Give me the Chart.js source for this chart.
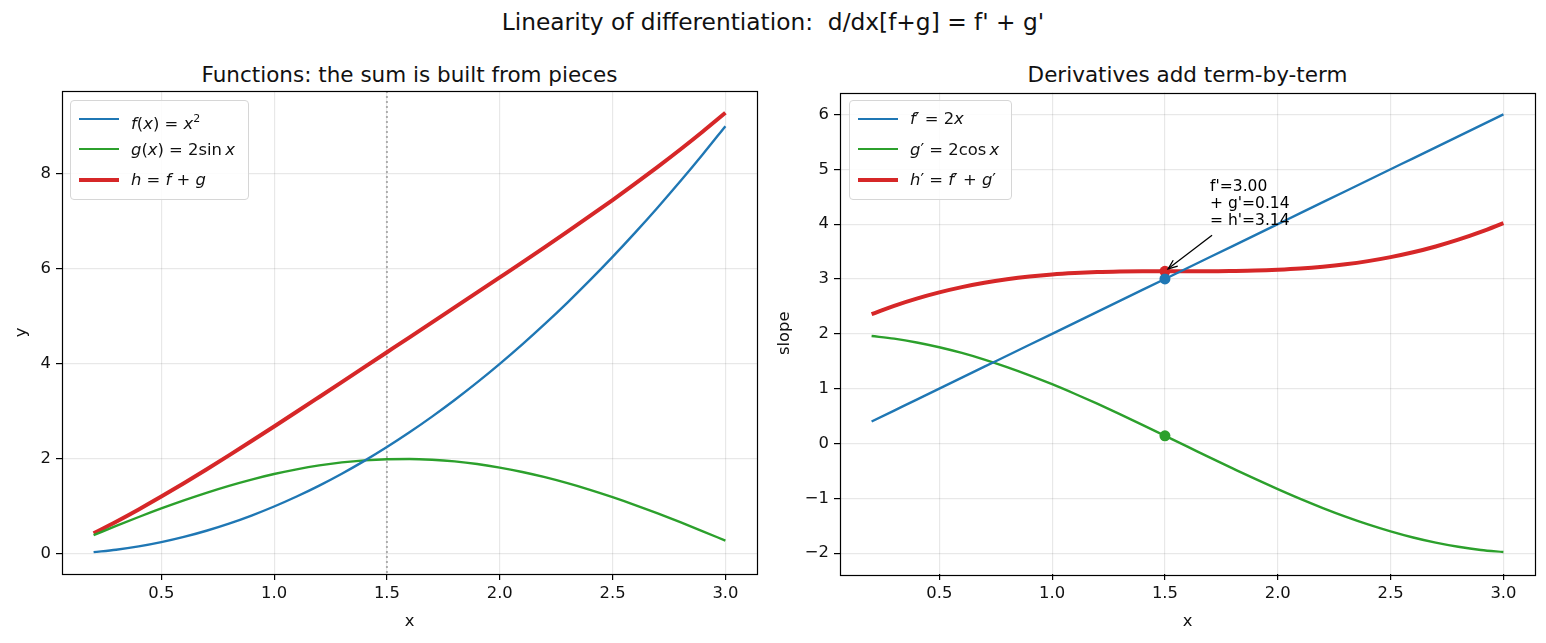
<!DOCTYPE html>
<html>
<head>
<meta charset="utf-8">
<script src="https://cdn.jsdelivr.net/npm/chart.js@4.4.1/dist/chart.umd.min.js"></script>
<style>
  body { margin: 0; width: 1546px; height: 643px; background: #fff; font-family: "DejaVu Sans", sans-serif; position: relative; overflow: hidden; }
  .title { position: absolute; left: 0; width: 1546px; top: 8px; text-align: center; font-size: 23.3px; line-height: 28px; color: #111; }
  .subtitle { position: absolute; top: 62px; text-align: center; font-size: 21.5px; line-height: 26px; color: #111; }
  .wrap { position: absolute; top: 87px; }
  .legend { position: absolute; background: rgba(255,255,255,0.85); border: 1px solid #d6d6d6; border-radius: 4px; font-size: 16.4px; color: #111; }
  .legend .row { position: absolute; left: 0; height: 20px; white-space: nowrap; }
  .legend .swatch { position: absolute; left: 8px; width: 40px; }
  .legend .lbl { position: absolute; left: 60px; top: -11px; line-height: 22px; }
  .legend i { font-style: italic; }
</style>
</head>
<body>
<div class="title">Linearity of differentiation:&nbsp; d/dx[f+g] = f' + g'</div>
<div class="subtitle" style="left:62px;width:695px">Functions: the sum is built from pieces</div>
<div class="subtitle" style="left:840px;width:695px">Derivatives add term-by-term</div>

<div class="wrap" style="left:0px"><canvas id="leftChart" width="770" height="556"></canvas></div>
<div class="wrap" style="left:770px"><canvas id="rightChart" width="776" height="556"></canvas></div>

<div class="legend" id="legLeft" style="left:70px;top:100px;width:177px;height:98px"></div>
<div class="legend" id="legRight" style="left:849px;top:100px;width:161px;height:98px"></div>

<script>
// x sample points
const xs = [0.2, 0.3, 0.4, 0.5, 0.6, 0.7, 0.8, 0.9, 1.0, 1.1, 1.2, 1.3, 1.4, 1.5, 1.6,
            1.7, 1.8, 1.9, 2.0, 2.1, 2.2, 2.3, 2.4, 2.5, 2.6, 2.7, 2.8, 2.9, 3.0];

// left panel: functions
const fVals = [0.04, 0.09, 0.16, 0.25, 0.36, 0.49, 0.64, 0.81, 1.00, 1.21, 1.44, 1.69, 1.96, 2.25, 2.56,
               2.89, 3.24, 3.61, 4.00, 4.41, 4.84, 5.29, 5.76, 6.25, 6.76, 7.29, 7.84, 8.41, 9.00];
const gVals = [0.397, 0.591, 0.779, 0.959, 1.129, 1.288, 1.435, 1.567, 1.683, 1.782, 1.864, 1.927, 1.971, 1.995, 1.999,
               1.983, 1.948, 1.893, 1.819, 1.726, 1.617, 1.491, 1.351, 1.197, 1.031, 0.855, 0.670, 0.479, 0.282];
const hVals = [0.437, 0.681, 0.939, 1.209, 1.489, 1.778, 2.075, 2.377, 2.683, 2.992, 3.304, 3.617, 3.931, 4.245, 4.559,
               4.873, 5.188, 5.503, 5.819, 6.136, 6.457, 6.781, 7.111, 7.447, 7.791, 8.145, 8.510, 8.889, 9.282];

// right panel: derivatives
const fpVals = [0.4, 0.6, 0.8, 1.0, 1.2, 1.4, 1.6, 1.8, 2.0, 2.2, 2.4, 2.6, 2.8, 3.0, 3.2,
                3.4, 3.6, 3.8, 4.0, 4.2, 4.4, 4.6, 4.8, 5.0, 5.2, 5.4, 5.6, 5.8, 6.0];
const gpVals = [1.960, 1.911, 1.842, 1.755, 1.651, 1.530, 1.393, 1.243, 1.081, 0.907, 0.725, 0.535, 0.340, 0.141, -0.058,
                -0.258, -0.454, -0.647, -0.832, -1.010, -1.177, -1.333, -1.475, -1.602, -1.714, -1.808, -1.884, -1.942, -1.980];
const hpVals = [2.360, 2.511, 2.642, 2.755, 2.851, 2.930, 2.993, 3.043, 3.081, 3.107, 3.125, 3.135, 3.140, 3.141, 3.142,
                3.142, 3.146, 3.153, 3.168, 3.190, 3.223, 3.267, 3.325, 3.398, 3.486, 3.592, 3.716, 3.858, 4.020];

// marked point x0 and its values
const x0 = 1.5;
const markVals = { fp: 3.00, gp: 0.14, hp: 3.14 };
const annotLines = ["f'=3.00", "+ g'=0.14", "= h'=3.14"];
const annotAt = [1.7, 3.98];

// ticks
const xTicks = [0.5, 1.0, 1.5, 2.0, 2.5, 3.0];
const yTicksLeft = [0, 2, 4, 6, 8];
const yTicksRight = [-2, -1, 0, 1, 2, 3, 4, 5, 6];

const BLUE = '#1f77b4', GREEN = '#2ca02c', RED = '#d62728';
const FONT = '"DejaVu Sans", sans-serif';

function pts(ys) { return xs.map((x, i) => ({ x: x, y: ys[i] })); }

function lineDs(label, ys, color, w) {
    return { label: label, data: pts(ys), borderColor: color, backgroundColor: color, borderWidth: w,
             showLine: true, pointRadius: 0, cubicInterpolationMode: 'monotone', fill: false };
}

// frame around the plot area
const framePlugin = {
    id: 'frame',
    afterDraw(chart) {
        const a = chart.chartArea, ctx = chart.ctx;
        ctx.save();
        ctx.strokeStyle = '#000';
        ctx.lineWidth = 1.2;
        ctx.strokeRect(Math.round(a.left) + 0.5, Math.round(a.top) + 0.5, Math.round(a.right - a.left), Math.round(a.bottom - a.top));
        ctx.restore();
    }
};

// dotted vertical marker at x0 (left panel)
const vlinePlugin = {
    id: 'vline',
    beforeDatasetsDraw(chart) {
        const xp = chart.scales.x.getPixelForValue(x0), a = chart.chartArea, ctx = chart.ctx;
        ctx.save();
        ctx.strokeStyle = 'rgba(128,128,128,0.6)';
        ctx.lineWidth = 2;
        ctx.setLineDash([2, 3]);
        ctx.beginPath();
        ctx.moveTo(xp, a.top);
        ctx.lineTo(xp, a.bottom);
        ctx.stroke();
        ctx.restore();
    }
};

// text + arrow annotation (right panel)
const annotPlugin = {
    id: 'annot',
    afterDatasetsDraw(chart) {
        const sx = chart.scales.x, sy = chart.scales.y, ctx = chart.ctx;
        const tx = sx.getPixelForValue(annotAt[0]), ty = sy.getPixelForValue(annotAt[1]);
        const px = sx.getPixelForValue(x0), py = sy.getPixelForValue(markVals.hp);
        ctx.save();
        ctx.fillStyle = '#000';
        ctx.font = '15.5px ' + FONT;
        ctx.textBaseline = 'alphabetic';
        annotLines.forEach((t, i) => ctx.fillText(t, tx, ty - (annotLines.length - 1 - i) * 17));
        // arrow
        const x1 = tx + 2, y1 = ty + 10;
        const dx = px - x1, dy = py - y1, len = Math.hypot(dx, dy);
        const ux = dx / len, uy = dy / len;
        const x2 = px - ux * 4, y2 = py - uy * 4;
        ctx.strokeStyle = '#000';
        ctx.lineWidth = 1.3;
        ctx.beginPath();
        ctx.moveTo(x1, y1);
        ctx.lineTo(x2, y2);
        ctx.stroke();
        const ang = Math.atan2(uy, ux), hl = 10;
        ctx.beginPath();
        ctx.moveTo(x2 - hl * Math.cos(ang - 0.38), y2 - hl * Math.sin(ang - 0.38));
        ctx.lineTo(x2, y2);
        ctx.lineTo(x2 - hl * Math.cos(ang + 0.38), y2 - hl * Math.sin(ang + 0.38));
        ctx.stroke();
        ctx.restore();
    }
};

function makeScales(yTicks, yMin, yMax, yTitle, yWidth, yTitlePad, yFmt) {
    const tickFont = { family: FONT, size: 16.4 };
    const grid = { color: 'rgba(0,0,0,0.09)', lineWidth: 1.2, tickColor: '#000', tickLength: 6, tickWidth: 1.2, drawTicks: true };
    return {
        x: {
            type: 'linear', min: 0.06, max: 3.14,
            afterBuildTicks: s => { s.ticks = xTicks.map(v => ({ value: v })); },
            afterFit: s => { s.height = 69; s.paddingLeft = 0; s.paddingRight = 0; },
            ticks: { font: tickFont, color: '#111', padding: 4, maxRotation: 0, callback: v => v.toFixed(1) },
            grid: grid, border: { display: false },
            title: { display: true, text: 'x', font: { family: FONT, size: 16.4 }, color: '#111', padding: { top: 0, bottom: 11 } }
        },
        y: {
            type: 'linear', min: yMin, max: yMax,
            afterBuildTicks: s => { s.ticks = yTicks.map(v => ({ value: v })); },
            afterFit: s => { s.width = yWidth; s.paddingTop = 0; s.paddingBottom = 0; },
            ticks: { font: tickFont, color: '#111', padding: 5, callback: yFmt },
            grid: grid, border: { display: false },
            title: { display: true, text: yTitle, font: { family: FONT, size: 16.4 }, color: '#111', padding: { top: yTitlePad, bottom: 0 } }
        }
    };
}

const leftChart = new Chart(document.getElementById('leftChart'), {
    type: 'scatter',
    data: {
        datasets: [
            lineDs('f(x) = x²', fVals, BLUE, 2.4),
            lineDs('g(x) = 2 sin x', gVals, GREEN, 2.4),
            lineDs('h = f + g', hVals, RED, 4)
        ]
    },
    options: {
        responsive: false, animation: false,
        layout: { padding: { top: 4, right: 13, left: 0, bottom: 0 } },
        plugins: { legend: { display: false }, tooltip: { enabled: false } },
        scales: makeScales(yTicksLeft, -0.42, 9.74, 'y', 62, 12, v => String(v))
    },
    plugins: [framePlugin, vlinePlugin]
});

const rightChart = new Chart(document.getElementById('rightChart'), {
    type: 'scatter',
    data: {
        datasets: [
            lineDs("f' = 2x", fpVals, BLUE, 2.4),
            lineDs("g' = 2cos x", gpVals, GREEN, 2.4),
            lineDs("h' = f' + g'", hpVals, RED, 4),
            { data: [{ x: x0, y: markVals.fp }], pointRadius: 5.5, pointBackgroundColor: BLUE, pointBorderWidth: 0, showLine: false },
            { data: [{ x: x0, y: markVals.gp }], pointRadius: 5.5, pointBackgroundColor: GREEN, pointBorderWidth: 0, showLine: false },
            { data: [{ x: x0, y: markVals.hp }], pointRadius: 5.5, pointBackgroundColor: RED, pointBorderWidth: 0, showLine: false }
        ]
    },
    options: {
        responsive: false, animation: false,
        layout: { padding: { top: 4, right: 11, left: 0, bottom: 0 } },
        plugins: { legend: { display: false }, tooltip: { enabled: false } },
        scales: makeScales(yTicksRight, -2.38, 6.4, 'slope', 70, 5, v => (v < 0 ? '\u2212' + Math.abs(v) : String(v)))
    },
    plugins: [framePlugin, annotPlugin]
});

// legends (math-styled labels)
const legendLeft = [
    { html: '<i>f</i>(<i>x</i>) = <i>x</i><sup style="font-size:11px;vertical-align:7px">2</sup>', color: BLUE, w: 2.4 },
    { html: '<i>g</i>(<i>x</i>) = 2sin\u2009<i>x</i>', color: GREEN, w: 2.4 },
    { html: '<i>h</i> = <i>f</i> + <i>g</i>', color: RED, w: 4 }
];
const legendRight = [
    { html: '<i>f</i>\u2032 = 2<i>x</i>', color: BLUE, w: 2.4 },
    { html: '<i>g</i>\u2032 = 2cos\u2009<i>x</i>', color: GREEN, w: 2.4 },
    { html: '<i>h</i>\u2032 = <i>f</i>\u2032 + <i>g</i>\u2032', color: RED, w: 4 }
];
function buildLegend(id, items) {
    const el = document.getElementById(id);
    items.forEach((it, i) => {
        const row = document.createElement('div');
        row.className = 'row';
        row.style.top = (18 + i * 30.5) + 'px';
        row.innerHTML = '<div class="swatch" style="border-top:' + it.w + 'px solid ' + it.color + ';top:' + (-it.w / 2) + 'px"></div>' +
                        '<div class="lbl">' + it.html + '</div>';
        el.appendChild(row);
    });
}
buildLegend('legLeft', legendLeft);
buildLegend('legRight', legendRight);
</script>
</body>
</html>
